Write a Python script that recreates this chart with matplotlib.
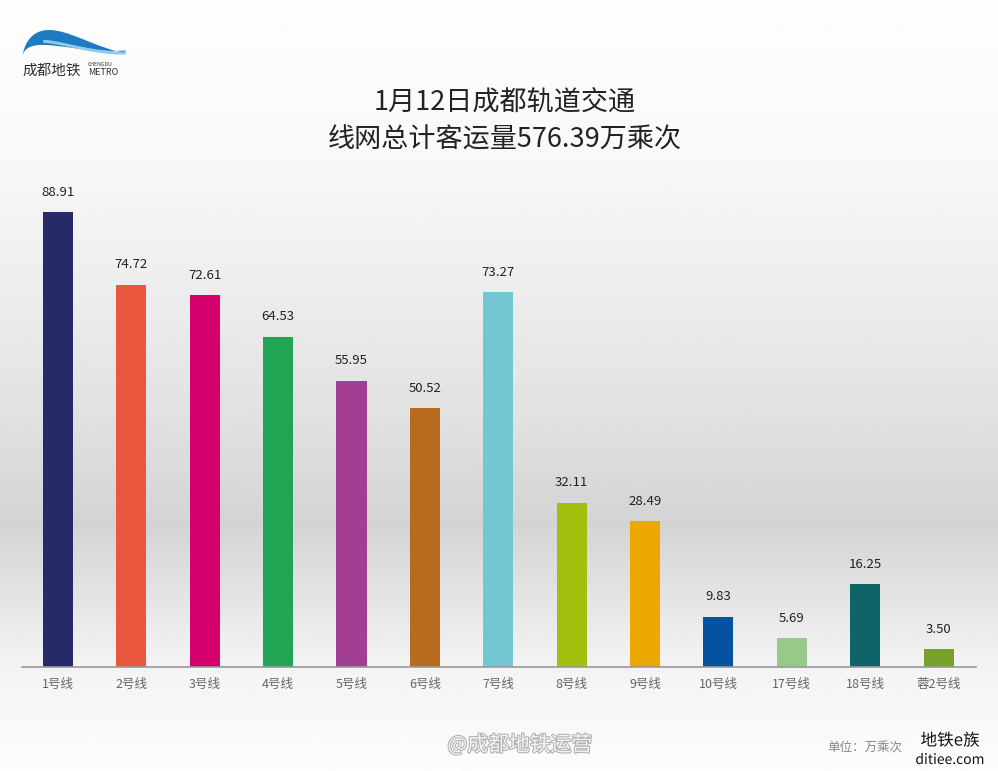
import numpy as np
import matplotlib
matplotlib.use('Agg')
import matplotlib.pyplot as plt
import matplotlib.patheffects as pe

plt.rcParams['font.family'] = ['Noto Sans CJK SC', 'DejaVu Sans']

# data (万乘次)
lines = ['1号线', '2号线', '3号线', '4号线', '5号线', '6号线', '7号线',
         '8号线', '9号线', '10号线', '17号线', '18号线', '蓉2号线']
ridership = [88.91, 74.72, 72.61, 64.53, 55.95, 50.52, 73.27,
             32.11, 28.49, 9.83, 5.69, 16.25, 3.50]
colors = ['#262A66', '#E8573E', '#D5006D', '#22A455', '#A23F92', '#B86A1E', '#74C6D3',
          '#A0C00D', '#EAA800', '#0552A0', '#96C98A', '#0E6466', '#76A22B']

fig = plt.figure(figsize=(9.98, 7.71), dpi=100)

# background gradient: white at top, grey band in the lower part, white at bottom
bg = fig.add_axes([0, 0, 1, 1], zorder=0)
yy = np.linspace(0, 1, 400)  # 0 = top
shade = np.interp(yy, [0, 0.2, 0.52, 0.68, 0.865, 1.0],
                  [0.995, 0.975, 0.89, 0.83, 0.955, 0.99])
grad = np.repeat(shade[:, None], 2, axis=1)
bg.imshow(grad, cmap='gray', vmin=0, vmax=1, aspect='auto', extent=[0, 1, 1, 0])
bg.set_xlim(0, 1)
bg.set_ylim(1, 0)
bg.axis('off')

# logo swoosh (rough crescent)
t = np.linspace(0, 1, 150)
lx = 22 + t * 103
upper = 58 - 30 * np.sin(np.pi * t ** 0.55) * (1 - t) ** 0.35 - 6 * t
lower = 58 - 14 * np.sin(np.pi * t ** 0.45) * (1 - t) ** 0.7 - 8 * t
bg.fill_between(lx / 998, upper / 771, lower / 771, color='#1F7BC1', lw=0)
hl = 56 - 18 * np.sin(np.pi * t ** 0.45) * (1 - t) ** 0.6 - 5 * t
bg.fill_between(lx[30:] / 998, hl[30:] / 771, (hl[30:] + 3) / 771,
                color='#8CCBEB', lw=0)
bg.text(22 / 998, 71 / 771, '成都地铁', fontsize=10.5, color='#333333', va='center')
bg.text(88 / 998, 64 / 771, 'CHENGDU', fontsize=3.8, color='#333333', va='center')
bg.text(88 / 998, 72.5 / 771, 'METRO', fontsize=6.5, color='#333333', va='center')

# titles
fig.text(0.506, 1 - 103 / 771, '1月12日成都轨道交通', fontsize=19.5, color='#222222',
         ha='center', va='center')
fig.text(0.506, 1 - 140 / 771, '线网总计客运量576.39万乘次', fontsize=19.5,
         color='#222222', ha='center', va='center')

ax = fig.add_axes([22 / 998, 104 / 771, 954 / 998, 511.7 / 771], zorder=1)
ax.patch.set_alpha(0)
x = np.arange(len(lines))
bars = ax.bar(x, ridership, width=0.41, color=colors)
for xi, v in zip(x, ridership):
    ax.text(xi, v + 2.6, f'{v:.2f}', ha='center', va='bottom',
            fontsize=9.5, color='#222222')

ax.set_xlim(-0.49, 12.51)
ax.set_ylim(0, 100)
ax.set_xticks(x)
ax.set_xticklabels(lines, fontsize=9, color='#666666')
ax.tick_params(axis='x', length=0, pad=8)
ax.set_yticks([])
for s in ['top', 'right', 'left']:
    ax.spines[s].set_visible(False)
ax.spines['bottom'].set_color('#999999')
ax.spines['bottom'].set_linewidth(1.2)

# unit note and watermarks
fig.text(902 / 998, 1 - 748 / 771, '单位：万乘次', fontsize=9, color='#888888',
         ha='right', va='center')
fig.text(520 / 998, 1 - 745 / 771, '@成都地铁运营', fontsize=15, color='#f4f4f4',
         ha='center', va='center',
         path_effects=[pe.withStroke(linewidth=1.5, foreground='#b0b0b0')])
fig.text(950 / 998, 1 - 741 / 771, '地铁e族', fontsize=12, color='#111111',
         ha='center', va='center',
         path_effects=[pe.withStroke(linewidth=2.5, foreground='white')])
fig.text(950 / 998, 1 - 760 / 771, 'ditiee.com', fontsize=10, color='#111111',
         ha='center', va='center',
         path_effects=[pe.withStroke(linewidth=2.5, foreground='white')])

plt.savefig('out.png', dpi=100)
